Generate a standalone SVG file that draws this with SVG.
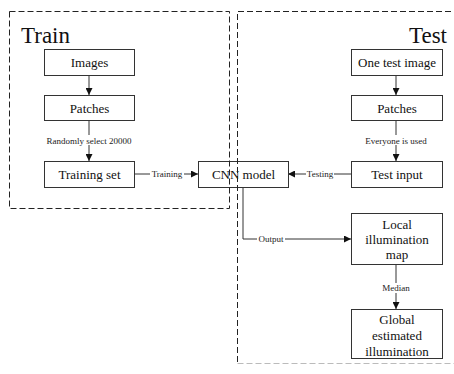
<svg xmlns="http://www.w3.org/2000/svg" width="454" height="374" viewBox="0 0 454 374">
<style>
.box{fill:#fff;stroke:#333;stroke-width:1}
.t{font-family:"Liberation Serif","Times New Roman",serif;font-size:13px;fill:#111;text-anchor:middle}
.s{font-family:"Liberation Serif","Times New Roman",serif;font-size:9px;fill:#222;text-anchor:middle}
.h{font-family:"Liberation Serif","Times New Roman",serif;font-size:23px;fill:#111}
.c{fill:none;stroke:#333;stroke-width:1}
.d{fill:none;stroke:#222;stroke-width:1;stroke-dasharray:6 3}
.bg{fill:#fff}
</style>
<defs>
<marker id="ah" viewBox="0 0 8 8" refX="8" refY="4" markerWidth="7" markerHeight="7" markerUnits="userSpaceOnUse" orient="auto">
<path d="M0,0 L8,4 L0,8 z" fill="#111"/>
</marker>
</defs>
<rect width="454" height="374" fill="#fff"/>
<g id="connectors">
<path class="c" d="M89,75 V95" marker-end="url(#ah)"/>
<path class="c" d="M89,120 V161" marker-end="url(#ah)"/>
<rect class="bg" x="43" y="135" width="92" height="10"/>
<text class="s" x="89" y="144">Randomly select 20000</text>
<path class="c" d="M134,174 H198" marker-end="url(#ah)"/>
<rect class="bg" x="150" y="169" width="34" height="10"/>
<text class="s" x="167" y="177">Training</text>
<path class="c" d="M396,75 V95" marker-end="url(#ah)"/>
<path class="c" d="M396,120 V161" marker-end="url(#ah)"/>
<rect class="bg" x="361" y="135" width="70" height="10"/>
<text class="s" x="396" y="144">Everyone is used</text>
<path class="c" d="M351,174 H288" marker-end="url(#ah)"/>
<rect class="bg" x="306" y="169" width="28" height="10"/>
<text class="s" x="320" y="177">Testing</text>
<path class="c" d="M243,187 V239 H351" marker-end="url(#ah)"/>
<rect class="bg" x="257" y="234" width="28" height="10"/>
<text class="s" x="271" y="242">Output</text>
<path class="c" d="M396,264 V309" marker-end="url(#ah)"/>
<rect class="bg" x="381" y="283" width="30" height="10"/>
<text class="s" x="396" y="291">Median</text>
</g>
<g id="images">
<rect class="box" x="44.5" y="49.5" width="90" height="26"/>
<text class="t" x="89.5" y="67">Images</text>
</g>
<g id="patches-train">
<rect class="box" x="44.5" y="95.5" width="90" height="25"/>
<text class="t" x="89.5" y="112.5">Patches</text>
</g>
<g id="training-set">
<rect class="box" x="44.5" y="161.5" width="90" height="26"/>
<text class="t" x="89.5" y="179">Training set</text>
</g>
<g id="cnn-model">
<rect class="box" x="198.5" y="161.5" width="90" height="26"/>
<text class="t" x="243.5" y="179">CNN model</text>
</g>
<g id="one-test-image">
<rect class="box" x="351.5" y="49.5" width="91" height="26"/>
<text class="t" x="397" y="67">One test image</text>
</g>
<g id="patches-test">
<rect class="box" x="351.5" y="95.5" width="91" height="25"/>
<text class="t" x="397" y="112.5">Patches</text>
</g>
<g id="test-input">
<rect class="box" x="351.5" y="161.5" width="91" height="26"/>
<text class="t" x="397" y="179">Test input</text>
</g>
<g id="local-map">
<rect class="box" x="351.5" y="213.5" width="91" height="51"/>
<text class="t" x="397" y="229">Local</text>
<text class="t" x="397" y="244">illumination</text>
<text class="t" x="397" y="259">map</text>
</g>
<g id="global-illum">
<rect class="box" x="351.5" y="309.5" width="91" height="49"/>
<text class="t" x="397" y="324">Global</text>
<text class="t" x="397" y="340">estimated</text>
<text class="t" x="397" y="356">illumination</text>
</g>
<g id="train-region">
<rect class="d" x="9.5" y="11.5" width="220" height="197"/>
<text class="h" x="21" y="43">Train</text>
</g>
<g id="test-region">
<path class="d" d="M460,11.5 H237.5 V363.5"/>
<path d="M237.5,363.5 H460" fill="none" stroke="#bbb" stroke-width="1" stroke-dasharray="6 3"/>
<text class="h" x="409" y="43">Test</text>
</g>
</svg>
